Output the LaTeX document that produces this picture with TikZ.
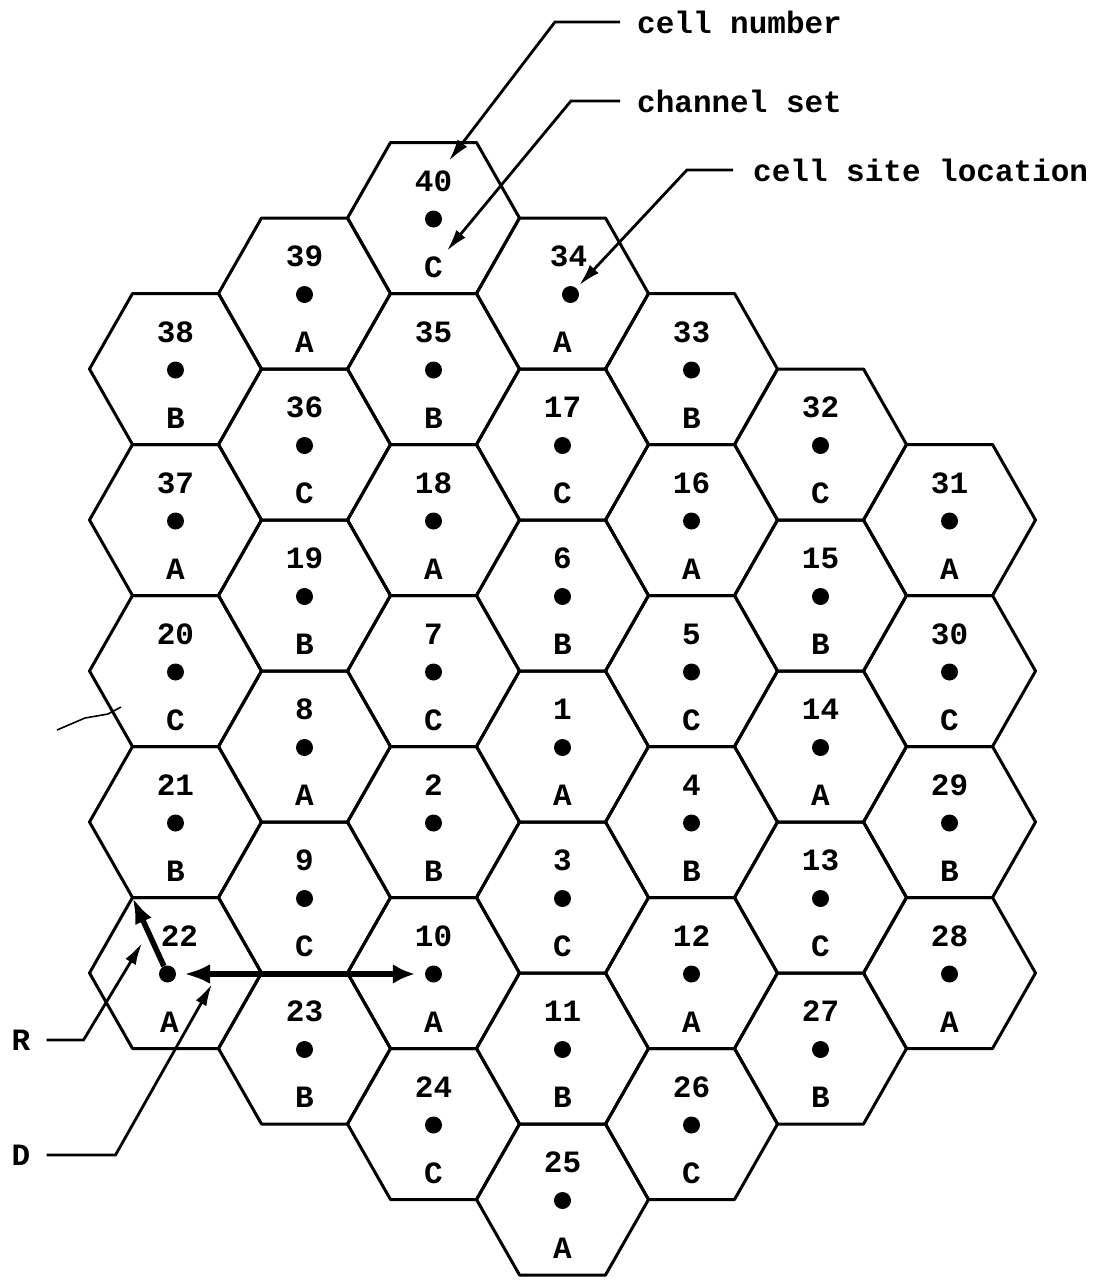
\documentclass[tikz,border=0pt]{standalone}
\usepackage{fontspec}
\newfontfamily\twfont{Liberation Mono}
\usetikzlibrary{arrows.meta,calc}
\tikzset{
  hexline/.style={line width=3pt, line join=round},
  lbl/.style={font=\twfont\bfseries\fontsize{31}{36}\selectfont, inner sep=0pt},
  sitedot/.style={circle, fill=black, inner sep=0pt, minimum size=17pt},
  leader/.style={line width=2.8pt, -{Latex[length=22pt,width=12pt]}},
  vec/.style={line width=5.5pt},
}
\begin{document}
\begin{tikzpicture}[x=1pt,y=-1pt]
\fill[white] (0,0) rectangle (1104,1280);
\useasboundingbox (0,0) rectangle (1104,1280);
\foreach \cA/\rA/\nA/\sA in {
 1/3/38/B, 1/5/37/A, 1/7/20/C, 1/9/21/B, 1/11/22/A,
 2/2/39/A, 2/4/36/C, 2/6/19/B, 2/8/8/A, 2/10/9/C, 2/12/23/B,
 3/1/40/C, 3/3/35/B, 3/5/18/A, 3/7/7/C, 3/9/2/B, 3/11/10/A, 3/13/24/C,
 4/2/34/A, 4/4/17/C, 4/6/6/B, 4/8/1/A, 4/10/3/C, 4/12/11/B, 4/14/25/A,
 5/3/33/B, 5/5/16/A, 5/7/5/C, 5/9/4/B, 5/11/12/A, 5/13/26/C,
 6/4/32/C, 6/6/15/B, 6/8/14/A, 6/10/13/C, 6/12/27/B,
 7/5/31/A, 7/7/30/C, 7/9/29/B, 7/11/28/A}{
  \pgfmathsetmacro\cx{175.5+129*(\cA-1)}
  \pgfmathsetmacro\cy{142.5+75.5*\rA}
  \pgfmathsetmacro\ddx{\nA==22 ? -8 : (\nA==34 ? 8 : 0)}
  \pgfmathsetmacro\ndx{\nA==22 ? 4 : (\nA==34 ? 6 : 0)}
  \pgfmathsetmacro\ldx{\nA==22 ? -6 : 0}
  \coordinate (c\nA) at (\cx,\cy);
  \draw[hexline] (c\nA) ++(-86,0) -- ++(43,-75.5) -- ++(86,0) -- ++(43,75.5) -- ++(-43,75.5) -- ++(-86,0) -- cycle;
  \node[lbl] (n\nA) at ($(c\nA)+(\ndx,-37)$) {\nA};
  \node[sitedot] (d\nA) at ($(c\nA)+(\ddx,1)$) {};
  \node[lbl] (l\nA) at ($(c\nA)+(\ldx,49)$) {\sA};
}
% annotations
\node[lbl, anchor=base west] (cn) at (637,33) {cell number};
\node[lbl, anchor=base west] (cs) at (637,112) {channel set};
\node[lbl, anchor=base west] (csl) at (753,181) {cell site location};
\node[lbl] (R) at (21,1040) {R};
\node[lbl] (D) at (21,1155) {D};
\coordinate (rtip) at (142,943);
\coordinate (dtip) at (212,984);
\coordinate (v22) at ($(c22)+(-43,-75.5)$);
\draw[leader, shorten >=12pt] ([xshift=-17pt]cn.west) -- ++(-65,0) -- (n40);
\draw[leader, shorten >=7pt] ([xshift=-17pt]cs.west) -- ++(-49,0) -- (l40);
\draw[leader, shorten >=4pt] ([xshift=-20pt]csl.west) -- ++(-46,0) -- (d34);
\draw[leader] ([xshift=16pt]R.east) -- ++(37,0) -- (rtip);
\draw[leader] ([xshift=16pt]D.east) -- ++(69,0) -- (dtip);
% vectors
\draw[vec, -{Latex[length=26pt,width=18pt]}] (d22) -- (v22);
\draw[vec, {Latex[length=26pt,width=20pt]}-{Latex[length=22pt,width=20pt]}, shorten <=8pt, shorten >=10pt] (d22) -- (d10);
% stray pen mark
\draw[line width=1.6pt, line join=round] (57,730) -- (85,718) -- (108,714) -- (121,707);
\end{tikzpicture}
\end{document}
